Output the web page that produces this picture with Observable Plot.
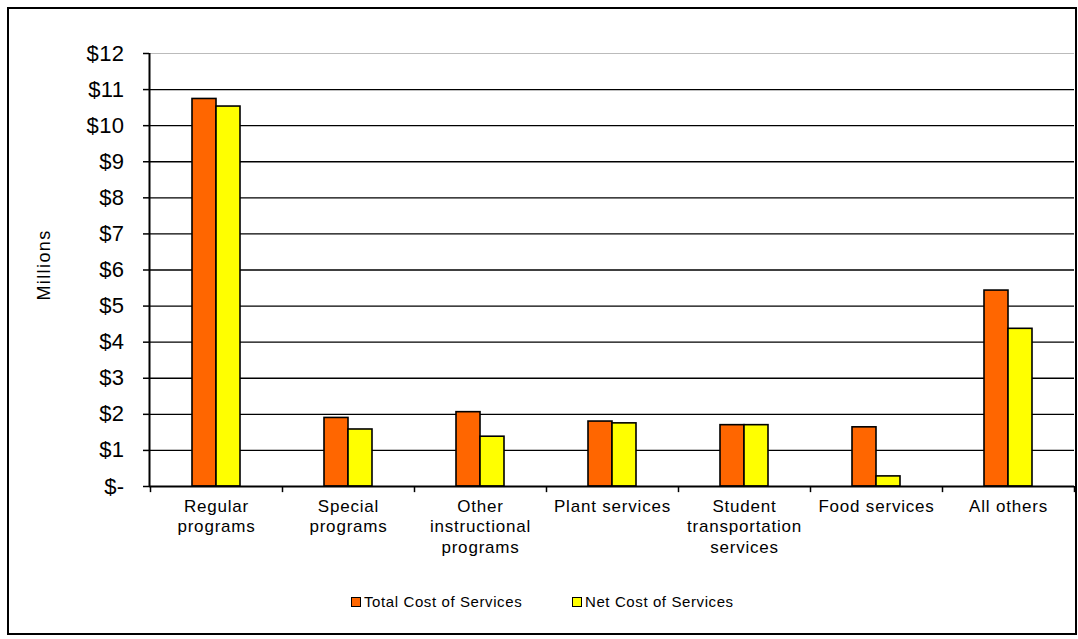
<!DOCTYPE html>
<html>
<head>
<meta charset="utf-8">
<script src="https://cdn.jsdelivr.net/npm/d3@7"></script>
<script src="https://cdn.jsdelivr.net/npm/@observablehq/plot@0.6"></script>
<style>
  body { margin: 0; background: #fff; font-family: "Liberation Sans", Arial, sans-serif; }
  #wrap { position: relative; width: 1078px; height: 639px; overflow: hidden; }
  #border { position: absolute; left: 7px; top: 7px; width: 1066px; height: 624px; border: 2px solid #000; box-sizing: content-box; pointer-events: none; }
  #chart { position: absolute; left: 0; top: 0; }
  #legend { position: absolute; top: 593px; left: 0; width: 1078px; height: 20px; font-size: 15px; letter-spacing: 0.6px; color: #000; }
  .item { position: absolute; display: flex; align-items: center; }
  .sw { width: 8px; height: 8px; border: 1.5px solid #000; margin-right: 3px; }
  [aria-label="x-axis tick label"] { letter-spacing: 0.8px; }
  [aria-label="y-axis tick label"] { letter-spacing: 0.4px; }
  .millions { letter-spacing: 1.4px; }
</style>
</head>
<body>
<div id="wrap">
  <div id="chart"></div>
  <div id="legend"></div>
  <div id="border"></div>
</div>
<script>
const categories = ["Regular\nprograms", "Special\nprograms", "Other\ninstructional\nprograms", "Plant services", "Student\ntransportation\nservices", "Food services", "All others"];
const totalCost = [10.74, 1.90, 2.06, 1.80, 1.70, 1.64, 5.43];
const netCost = [10.53, 1.58, 1.38, 1.75, 1.70, 0.28, 4.37];
const seriesNames = ["Total Cost of Services", "Net Cost of Services"];
const seriesColors = ["#FF6600", "#FFFF00"];
const yTicks = [0,1,2,3,4,5,6,7,8,9,10,11,12];

const totalData = categories.map((c, i) => ({category: c, value: totalCost[i]}));
const netData = categories.map((c, i) => ({category: c, value: netCost[i]}));

const half = 66;
const chart = Plot.plot({
  width: 1078,
  height: 580,
  marginLeft: 149,
  marginRight: 4,
  marginTop: 53,
  marginBottom: 94,
  style: {fontFamily: "Liberation Sans, Arial, sans-serif", color: "#000", background: "transparent"},
  x: {domain: categories, padding: 0, label: null},
  y: {domain: [0, 12], label: null},
  marks: [
    Plot.ruleY(yTicks.filter(d => d > 0 && d < 12), {y: d => d, stroke: "#000", strokeWidth: 1.4}),
    Plot.ruleY([12], {stroke: "#bbb", strokeWidth: 1}),
    Plot.barY(totalData, {x: "category", y: "value", fill: seriesColors[0], stroke: "#000", strokeWidth: 1.6, insetLeft: 42, insetRight: 66}),
    Plot.barY(netData, {x: "category", y: "value", fill: seriesColors[1], stroke: "#000", strokeWidth: 1.6, insetLeft: 66, insetRight: 42}),
    Plot.ruleY([0], {stroke: "#000", strokeWidth: 2}),
    Plot.ruleX([categories[0]], {dx: -half - 1, y1: 0, y2: 12, stroke: "#000", strokeWidth: 2}),
    Plot.ruleX(categories, {x: d => d, dx: -half, y1: -0.17, y2: 0, stroke: "#000", strokeWidth: 1.5}),
    Plot.ruleX([categories[categories.length - 1]], {dx: half, y1: -0.17, y2: 0, stroke: "#000", strokeWidth: 1.5}),
    Plot.axisY({ticks: yTicks, tickSize: 6, tickPadding: 19, fontSize: 22, strokeWidth: 1.5,
      tickFormat: d => d === 0 ? "$-" : "$" + d, label: null}),
    Plot.axisX({tickSize: 0, tickPadding: 11, fontSize: 17, lineHeight: 1.2, label: null}),
    Plot.text(["Millions"], {frameAnchor: "left", textAnchor: "middle", dx: -105, dy: -5, rotate: -90, fontSize: 18, fill: "#000", className: "millions"})
  ]
});
document.getElementById("chart").appendChild(chart);

const legend = document.getElementById("legend");
const legendX = [351, 572];
seriesNames.forEach((name, i) => {
  const item = document.createElement("div");
  item.className = "item";
  item.style.left = legendX[i] + "px";
  const sw = document.createElement("div");
  sw.className = "sw";
  sw.style.background = seriesColors[i];
  const label = document.createElement("span");
  label.textContent = name;
  item.appendChild(sw);
  item.appendChild(label);
  legend.appendChild(item);
});
</script>
</body>
</html>
